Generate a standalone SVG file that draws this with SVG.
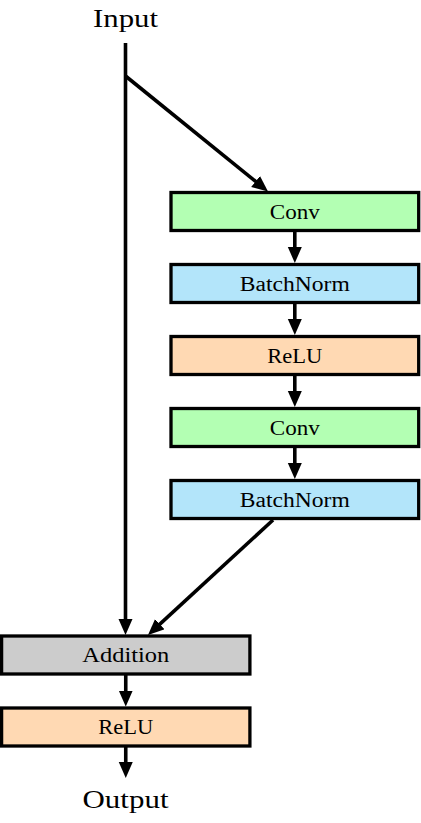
<svg xmlns="http://www.w3.org/2000/svg" width="421" height="823" viewBox="0 0 421 823">
<style>
.box{stroke:#000;stroke-width:3.3}
.conv{fill:#b3ffb3}
.bn{fill:#b3e5fa}
.relu{fill:#ffd9b3}
.add{fill:#cccccc}
.lbl{font-family:"Liberation Serif","DejaVu Serif",serif;font-size:20px;fill:#000;text-anchor:middle}
.ttl{font-family:"Liberation Serif","DejaVu Serif",serif;font-size:26px;fill:#000;text-anchor:middle}
.edge{stroke:#000;stroke-width:3.6;fill:none}
</style>
<defs>
<marker id="arr" markerUnits="userSpaceOnUse" markerWidth="17" markerHeight="15" refX="8" refY="7" orient="auto">
<path d="M0,0 L16,7 L0,14 z" fill="#000"/>
</marker>
</defs>
<g id="connectors">
<path class="edge" d="M125.5,43 L125.5,627" marker-end="url(#arr)"/>
<path class="edge" d="M125.5,76 L261.8,186.5" marker-end="url(#arr)"/>
<path class="edge" d="M294.8,231.5 L294.8,255" marker-end="url(#arr)"/>
<path class="edge" d="M294.8,303.5 L294.8,327" marker-end="url(#arr)"/>
<path class="edge" d="M294.8,375.5 L294.8,399" marker-end="url(#arr)"/>
<path class="edge" d="M294.8,447.5 L294.8,471" marker-end="url(#arr)"/>
<path class="edge" d="M273,520 L153.9,629.6" marker-end="url(#arr)"/>
<path class="edge" d="M125.75,675 L125.75,698.5" marker-end="url(#arr)"/>
<path class="edge" d="M125.75,747 L125.75,770" marker-end="url(#arr)"/>
</g>
<g id="input"><text class="ttl" x="125.5" y="27" textLength="65" lengthAdjust="spacingAndGlyphs">Input</text></g>
<g id="conv1"><rect class="box conv" x="171" y="192.5" width="247.7" height="38"/><text class="lbl" x="294.8" y="218.5" textLength="50" lengthAdjust="spacingAndGlyphs">Conv</text></g>
<g id="bn1"><rect class="box bn" x="171" y="264.5" width="247.7" height="38"/><text class="lbl" x="294.8" y="290.5" textLength="110" lengthAdjust="spacingAndGlyphs">BatchNorm</text></g>
<g id="relu1"><rect class="box relu" x="171" y="336.5" width="247.7" height="38"/><text class="lbl" x="294.8" y="362.5" textLength="55" lengthAdjust="spacingAndGlyphs">ReLU</text></g>
<g id="conv2"><rect class="box conv" x="171" y="408.5" width="247.7" height="38"/><text class="lbl" x="294.8" y="434.5" textLength="50" lengthAdjust="spacingAndGlyphs">Conv</text></g>
<g id="bn2"><rect class="box bn" x="171" y="480.5" width="247.7" height="38"/><text class="lbl" x="294.8" y="506.5" textLength="110" lengthAdjust="spacingAndGlyphs">BatchNorm</text></g>
<g id="addition"><rect class="box add" x="1.6" y="636" width="248.3" height="38"/><text class="lbl" x="125.75" y="662" textLength="87" lengthAdjust="spacingAndGlyphs">Addition</text></g>
<g id="relu2"><rect class="box relu" x="1.6" y="708" width="248.3" height="38"/><text class="lbl" x="125.75" y="734" textLength="55" lengthAdjust="spacingAndGlyphs">ReLU</text></g>
<g id="output"><text class="ttl" x="125.5" y="808" textLength="86" lengthAdjust="spacingAndGlyphs">Output</text></g>
</svg>
